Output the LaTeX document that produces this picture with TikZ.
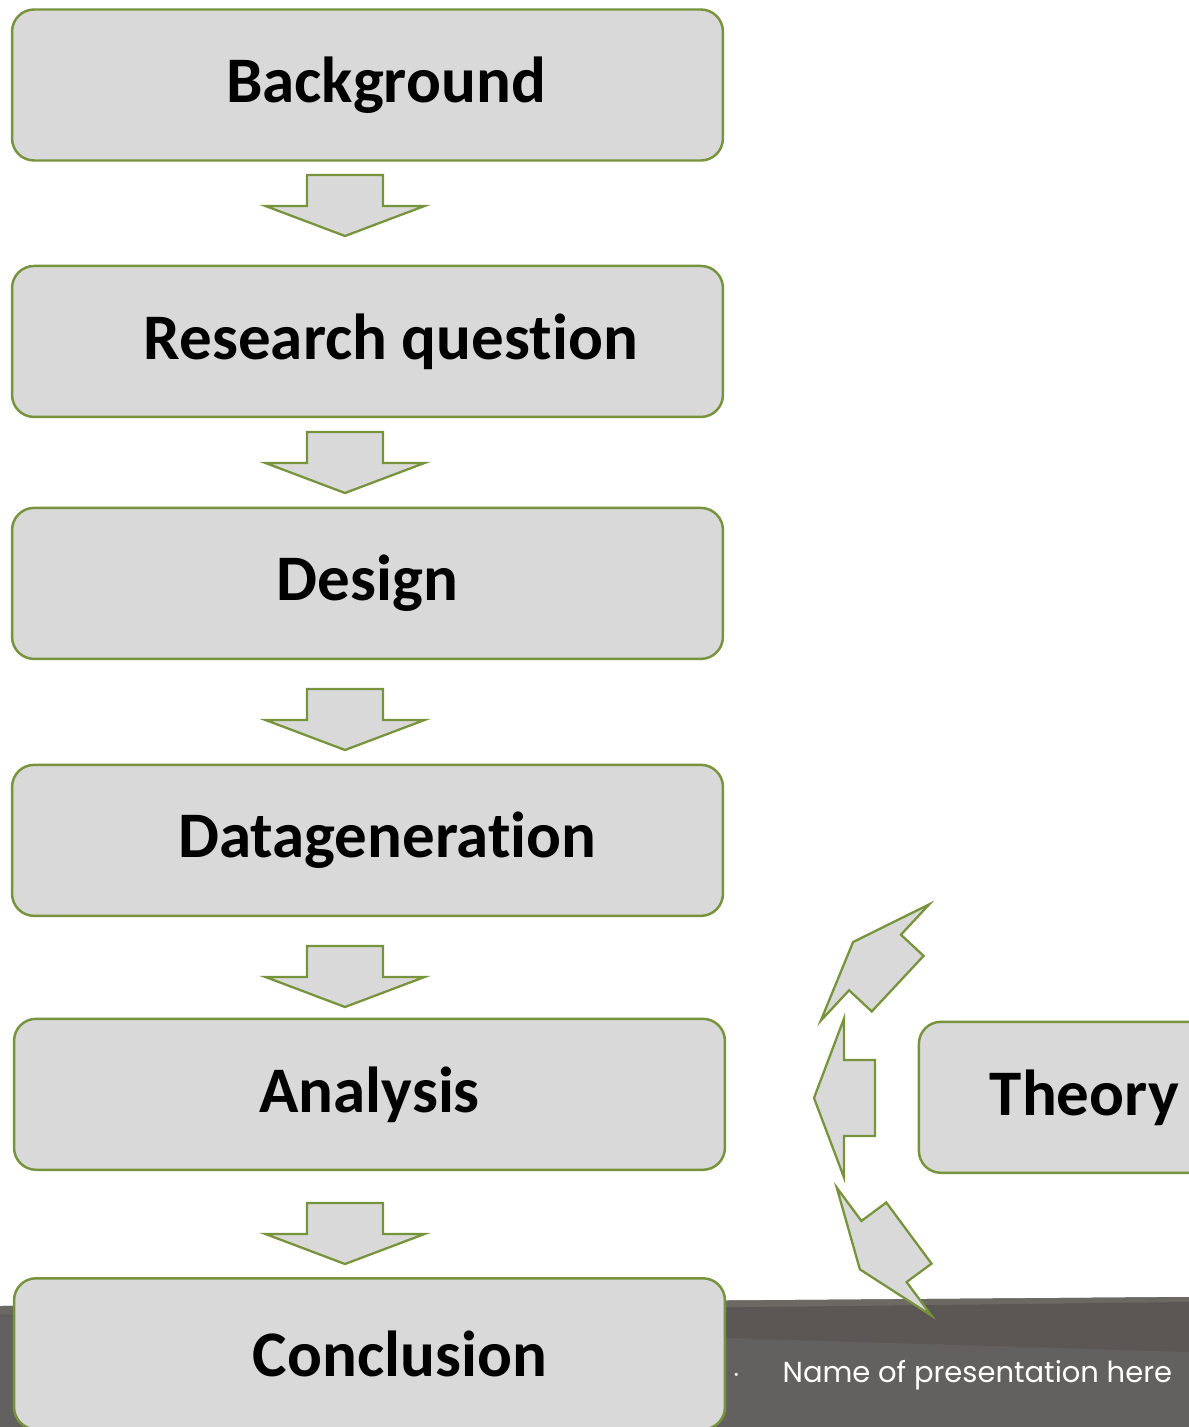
\documentclass[tikz,border=0pt]{standalone}
\usepackage{fontspec}
\setmainfont{Carlito}[Ligatures=NoCommon]
\newfontfamily\footfont{Poppins}
\usetikzlibrary{positioning, calc}
\definecolor{leafgreen}{RGB}{119, 147, 60}
\definecolor{boxgray}{RGB}{217, 217, 217}
\definecolor{footgray}{RGB}{99, 97, 95}
\definecolor{footdark}{RGB}{91, 87, 84}
\definecolor{footlight}{RGB}{108, 104, 100}
\tikzstyle{stage} = [rectangle, rounded corners=0.44cm, minimum width=14.22cm, minimum height=3.02cm, text centered, draw=leafgreen, line width=1.4pt, fill=boxgray, font=\fontsize{37}{44}\selectfont\bfseries]
\tikzset{
  blockarr/.pic={
    \draw [draw=leafgreen, line width=1.3pt, fill=boxgray, line join=miter]
      (30,0) -- (0,79.5) -- (0,38) -- (-31,38) -- (-31,-38) -- (0,-38) -- (0,-79.5) -- cycle;
  }
}

\begin{document}
\begin{tikzpicture}[x=0.02cm, y=-0.02cm, node distance=5.13cm]
\useasboundingbox (0,0) rectangle (1189,1427);

% footer band
\fill [footgray] (0,1306) -- (1189,1297) -- (1189,1427) -- (0,1427) -- cycle;
\fill [footlight] (0,1306) -- (1189,1297) -- (1189,1303) -- (0,1314) -- cycle;
\fill [footdark] (0,1316) -- (1189,1302) -- (1189,1352) -- cycle;
\node (footer) [anchor=west, text=white, font=\footfont\fontsize{16.5}{20}\selectfont] at (726,1375) {$\cdot$\hspace{0.84cm}Name of presentation here};

\node (background) [stage] at (367.5,85) {\hspace*{0.74cm}Background};
\node (question) [stage, below of=background] {\hspace*{0.94cm}Research question};
\node (design) [stage, below of=question, yshift=0.29cm] {Design};
\node (datagen) [stage, below of=design, yshift=-0.01cm] {\hspace*{0.8cm}Datageneration};
\node (analysis) [stage, below of=datagen, xshift=0.04cm, yshift=0.05cm] {Analysis};
\node (conclusion) [stage, below of=analysis, yshift=-0.06cm] {\hspace*{1.22cm}Conclusion};
\node (theory) [stage, minimum width=6.22cm, right of=analysis, xshift=8.97cm, yshift=-0.06cm] {\hspace*{0.4cm}Theory};

% arrows
\foreach \y in {206,463,720,977,1234}
  \pic [rotate=-90] at (345,\y) {blockarr};
\pic [rotate=137] at (875,962.5) {blockarr};
\pic [rotate=180] at (844,1098) {blockarr};
\pic [rotate=216.5] at (884,1251.5) {blockarr};

\end{tikzpicture}
\end{document}
